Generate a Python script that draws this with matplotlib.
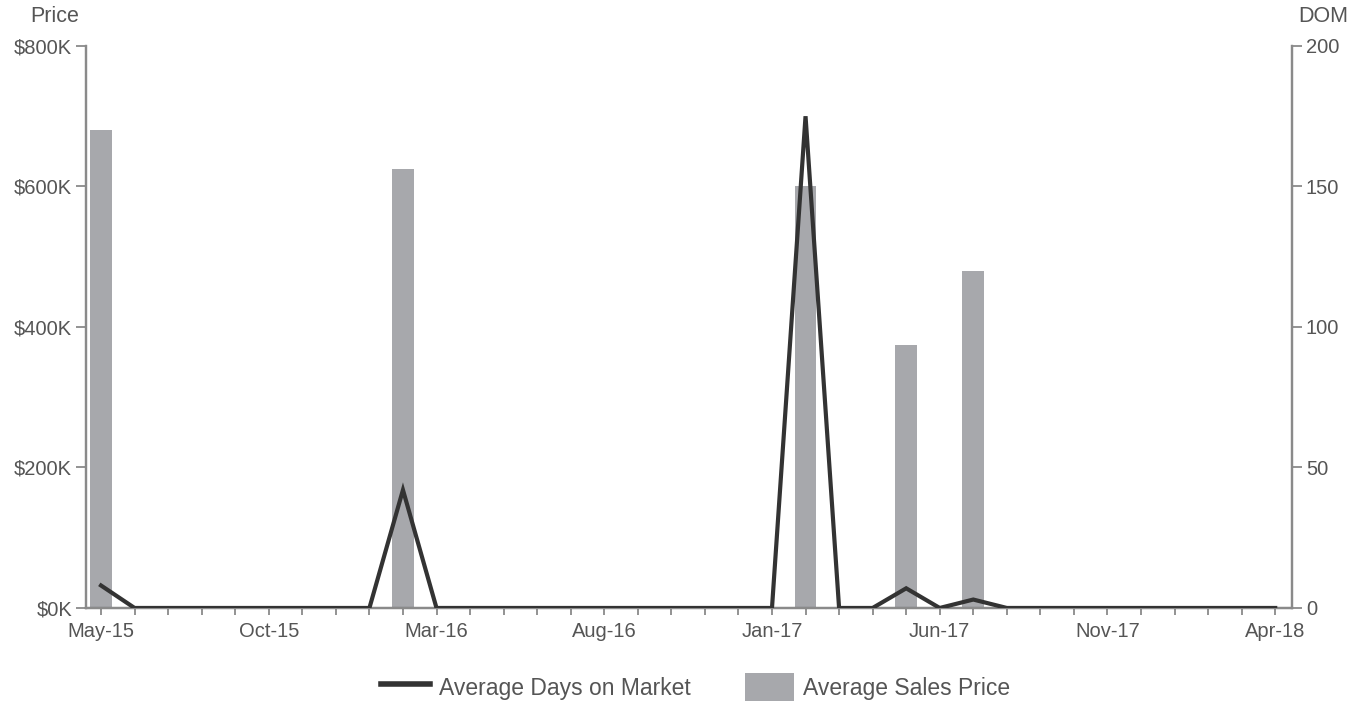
import matplotlib
matplotlib.use("Agg")
import matplotlib.pyplot as plt
from matplotlib.lines import Line2D
from matplotlib.patches import Patch
from matplotlib.ticker import FixedLocator, FuncFormatter

plt.rcParams['font.family'] = ['Liberation Sans', 'DejaVu Sans']

# monthly data, May-15 .. Apr-18
months = ["May-15", "Jun-15", "Jul-15", "Aug-15", "Sep-15", "Oct-15", "Nov-15", "Dec-15",
          "Jan-16", "Feb-16", "Mar-16", "Apr-16", "May-16", "Jun-16", "Jul-16", "Aug-16",
          "Sep-16", "Oct-16", "Nov-16", "Dec-16", "Jan-17", "Feb-17", "Mar-17", "Apr-17",
          "May-17", "Jun-17", "Jul-17", "Aug-17", "Sep-17", "Oct-17", "Nov-17", "Dec-17",
          "Jan-18", "Feb-18", "Mar-18", "Apr-18"]
avg_price = [680000, 0, 0, 0, 0, 0, 0, 0,
             0, 625000, 0, 0, 0, 0, 0, 0,
             0, 0, 0, 0, 0, 600000, 0, 0,
             375000, 0, 480000, 0, 0, 0, 0, 0,
             0, 0, 0, 0]
avg_dom = [8, 0, 0, 0, 0, 0, 0, 0,
           0, 42, 0, 0, 0, 0, 0, 0,
           0, 0, 0, 0, 0, 175, 0, 0,
           7, 0, 3, 0, 0, 0, 0, 0,
           0, 0, 0, 0]
price_ticks = [0, 200000, 400000, 600000, 800000]
dom_ticks = [0, 50, 100, 150, 200]

text_col = "#555555"
spine_col = "#8a8a8a"
bar_col = "#a7a8ac"
line_col = "#333333"

x = list(range(len(months)))

fig = plt.figure(figsize=(13.64, 7.04), dpi=100)
ax = fig.add_axes([0.063, 0.1364, 0.8842, 0.7983])
ax2 = ax.twinx()

ax.bar(x, avg_price, width=0.65, color=bar_col, zorder=1)
ax2.plot(x, avg_dom, color=line_col, lw=3, solid_joinstyle="miter", zorder=3)

ax.set_xlim(-0.45, 35.5)
ax.set_ylim(0, 800000)
ax2.set_ylim(0, 200)

ax.xaxis.set_major_locator(FixedLocator(x[::5]))
ax.set_xticklabels(months[::5])
ax.xaxis.set_minor_locator(FixedLocator(x))
ax.set_yticks(price_ticks)
ax.yaxis.set_major_formatter(FuncFormatter(lambda v, p: "$%dK" % (v / 1000)))
ax2.set_yticks(dom_ticks)

for a in (ax, ax2):
    a.spines["top"].set_visible(False)
    for s in ("left", "right", "bottom"):
        a.spines[s].set_color(spine_col)
        a.spines[s].set_linewidth(1.6)
    a.tick_params(axis="both", which="both", colors=spine_col, labelcolor=text_col,
                  labelsize=14.5, width=1.3)
ax.tick_params(axis="x", which="major", length=5, pad=5)
ax.tick_params(axis="x", which="minor", length=5)
ax.tick_params(axis="y", length=7, pad=3)
ax2.tick_params(axis="y", length=7, pad=3)
ax.spines["bottom"].set_color("#666666")

fig.text(0.040, 0.976, "Price", color=text_col, fontsize=15.5, ha="center", va="center")
fig.text(0.970, 0.976, "DOM", color=text_col, fontsize=15.5, ha="center", va="center")

handles = [Line2D([0], [0], color=line_col, lw=4),
           Patch(facecolor=bar_col, edgecolor="none")]
fig.legend(handles, ["Average Days on Market", "Average Sales Price"],
           loc="center", bbox_to_anchor=(0.51, 0.024), ncol=2, frameon=False,
           fontsize=16.5, labelcolor=text_col, handlelength=2.1, handleheight=1.55,
           columnspacing=2.4, handletextpad=0.4, borderpad=0.2)

fig.savefig("out.png", dpi=100)
